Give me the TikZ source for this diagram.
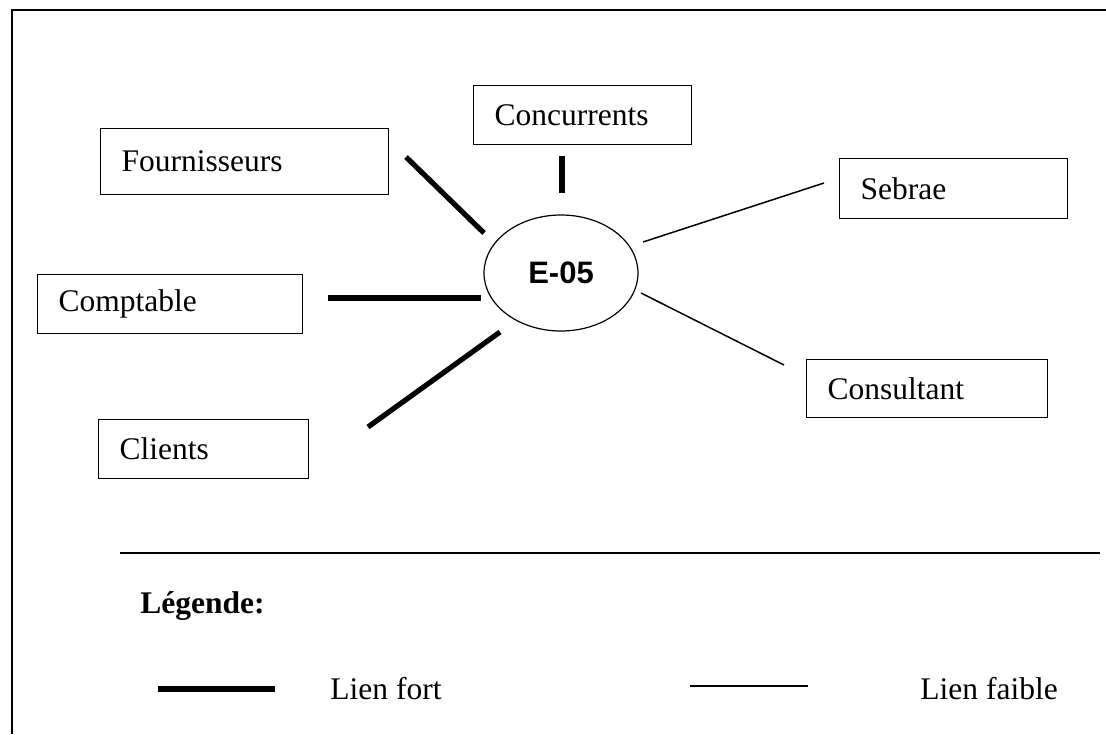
\documentclass[tikz,border=0pt]{standalone}
\usepackage{fontspec}
\setmainfont{Liberation Serif}
\newfontfamily\arialfont{Liberation Sans}
\usetikzlibrary{shapes.geometric}
\begin{document}
\begin{tikzpicture}[x=0.5pt,y=-0.5pt,
  every node/.style={font=\fontsize{15.75pt}{18pt}\selectfont},
  actor/.style={draw, line width=0.6pt, rectangle, inner xsep=10.5pt, inner ysep=0pt, align=left, anchor=north west},
  strong/.style={line width=2.6pt},
  weak/.style={line width=0.75pt},
  frame/.style={line width=0.8pt}]
\useasboundingbox (0,0) rectangle (1106,734);
% frame
\draw[frame] (1106,10) -- (12,10) -- (12,734);
\draw[line width=0.6pt] (120,553) -- (1100,553);
% center
\node[draw, ellipse, line width=0.6pt, minimum width=77pt, minimum height=58pt, inner sep=0pt,
  font=\arialfont\bfseries\fontsize{15.5pt}{18pt}\selectfont] (e05) at (561,273) {E-05};
% boxes
\node[actor, text width=123pt, minimum height=33pt] (fourn) at (100,128) {Fournisseurs};
\node[actor, text width=88pt, minimum height=29.5pt] (conc) at (473,85) {Concurrents};
\node[actor, text width=93pt, minimum height=30pt] (sebrae) at (839,158) {Sebrae};
\node[actor, text width=111.5pt, minimum height=29.5pt] (compt) at (37,274) {Comptable};
\node[actor, text width=99.5pt, minimum height=29pt] (consult) at (806,359) {Consultant};
\node[actor, text width=84pt, minimum height=29.5pt] (clients) at (98,419) {Clients};
% connector ends
\coordinate (f1) at (406,157); \coordinate (f2) at (484,233);
\coordinate (c1) at (562,156); \coordinate (c2) at (562,193);
\coordinate (s1) at (643,242); \coordinate (s2) at (824,183);
\coordinate (k1) at (328,298); \coordinate (k2) at (481,298);
\coordinate (u1) at (641,293); \coordinate (u2) at (784,365);
\coordinate (l1) at (368,427); \coordinate (l2) at (500,332);
\draw[strong] (f1) -- (f2);
\draw[strong] (c1) -- (c2);
\draw[weak] (s1) -- (s2);
\draw[strong] (k1) -- (k2);
\draw[weak] (u1) -- (u2);
\draw[strong] (l1) -- (l2);
% legend
\node[anchor=base west, inner sep=0pt, font=\bfseries\fontsize{15.75pt}{18pt}\selectfont] (leg) at (140,613) {Légende:};
\coordinate (ls1) at (158,689); \coordinate (ls2) at (275,689);
\coordinate (lw1) at (690,686); \coordinate (lw2) at (808,686);
\draw[line width=3pt] (ls1) -- (ls2);
\draw[weak] (lw1) -- (lw2);
\node[anchor=base west, inner sep=0pt] (lf) at (330,699) {Lien fort};
\node[anchor=base west, inner sep=0pt] (lfa) at (920,699) {Lien faible};
\end{tikzpicture}
\end{document}
